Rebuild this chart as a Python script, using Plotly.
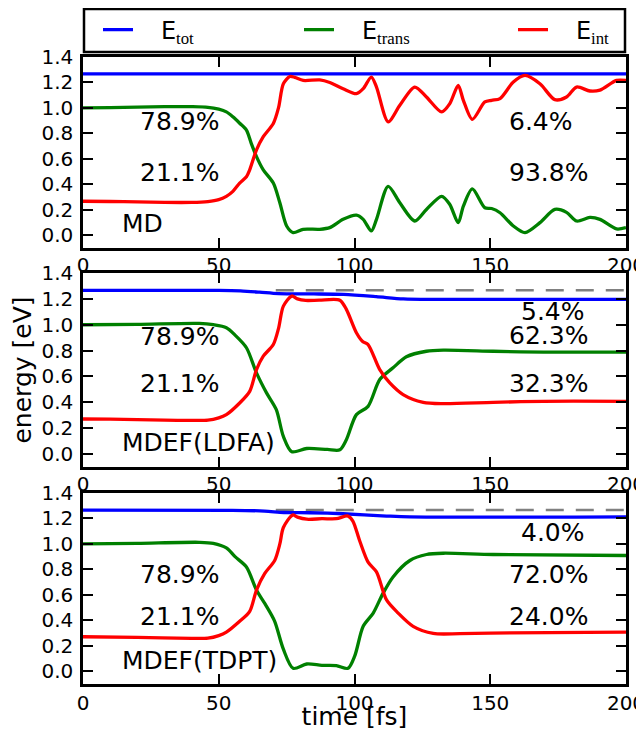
import plotly.graph_objects as go

# ---------------- data ----------------
# Panel 1: MD
md_tot_t = [0, 50, 100, 150, 200]
md_tot = [1.268, 1.268, 1.268, 1.268, 1.268]
md_int_t = [0, 10, 20, 30, 40, 46, 50, 52.8, 55.2, 57.7, 60.2, 61.4, 63.9, 66.4, 70.1, 72, 73.8, 76.2, 78,
            81.1, 87.2, 90.9, 95.8, 100.7, 103.2, 106.2, 108.1, 112.4, 116.7, 122.2, 126.5, 132.1, 135.1,
            138.2, 140.1, 143.4, 148, 150.5, 153.6, 158.5, 162.8, 168.3, 173.8, 178.1, 181.8, 186.7, 190.4,
            196.5, 200]
md_int = [0.267, 0.265, 0.262, 0.258, 0.258, 0.265, 0.28, 0.306, 0.345, 0.41, 0.46, 0.514, 0.67, 0.774, 0.878,
          1.0, 1.19, 1.247, 1.24, 1.216, 1.22, 1.2, 1.151, 1.112, 1.151, 1.242, 1.164, 0.891, 1.021, 1.164,
          1.086, 0.969, 1.034, 1.177, 1.06, 0.91, 1.047, 1.06, 1.073, 1.203, 1.255, 1.19, 1.065, 1.086, 1.164,
          1.133, 1.14, 1.216, 1.216]
md_trans_t = [0, 10, 20, 30, 40, 46, 50, 52.8, 55.2, 57.7, 60.2, 62, 63.9, 66.4, 70.1, 72.5, 75, 77.4, 81.1,
              87.2, 90.9, 95.8, 100.7, 103.2, 106.2, 108.1, 112.4, 116.7, 122.2, 126.5, 132.1, 135.1, 138.2,
              140.1, 143.4, 148, 150.5, 153.6, 158.5, 162.8, 168.3, 173.8, 178.1, 181.8, 186.7, 190.4, 196.5, 200]
md_trans = [1.0, 1.003, 1.006, 1.01, 1.01, 1.005, 0.99, 0.969, 0.93, 0.88, 0.826, 0.72, 0.618, 0.514, 0.41,
            0.255, 0.073, 0.021, 0.047, 0.047, 0.06, 0.125, 0.158, 0.125, 0.034, 0.125, 0.384, 0.255, 0.112,
            0.203, 0.306, 0.242, 0.099, 0.229, 0.364, 0.216, 0.21, 0.177, 0.073, 0.021, 0.099, 0.203, 0.18,
            0.112, 0.14, 0.125, 0.05, 0.06]

# Panel 2: MDEF(LDFA)
ldfa_tot_t = [0, 50, 58, 65, 72, 85, 96, 108, 118, 130, 200]
ldfa_tot = [1.266, 1.266, 1.262, 1.252, 1.24, 1.238, 1.234, 1.217, 1.2, 1.196, 1.196]
ldfa_int_t = [0, 10, 20, 30, 40, 46, 50, 52.8, 57.7, 61.4, 63.9, 66.4, 70.1, 72, 73.8, 76.9, 79, 82, 87, 94.6,
              97, 100.7, 103, 105, 109.3, 113, 117.9, 125.3, 132.7, 151.1, 169.6, 200]
ldfa_int = [0.271, 0.27, 0.266, 0.262, 0.26, 0.262, 0.28, 0.305, 0.395, 0.485, 0.653, 0.757, 0.847, 0.97,
            1.144, 1.222, 1.2, 1.188, 1.19, 1.19, 1.119, 0.938, 0.87, 0.847, 0.653, 0.55, 0.46, 0.4, 0.39,
            0.4, 0.408, 0.408]
ldfa_trans_t = [0, 20, 42.8, 48, 52.8, 56, 60.2, 63.9, 67.6, 71.2, 73.8, 76.9, 82.4, 90, 94.6, 97, 100.7,
                105, 109.3, 114.2, 119.1, 126.5, 132.7, 151.1, 169.6, 200]
ldfa_trans = [1.0, 1.003, 1.01, 1.0, 0.977, 0.92, 0.822, 0.628, 0.473, 0.343, 0.136, 0.018, 0.043, 0.036,
              0.033, 0.111, 0.305, 0.369, 0.576, 0.667, 0.752, 0.795, 0.803, 0.795, 0.788, 0.788]

# Panel 3: MDEF(TDPT)
tdpt_tot_t = [0, 55, 66.9, 74, 83.5, 95.8, 111.8, 120.4, 200]
tdpt_tot = [1.266, 1.264, 1.258, 1.247, 1.245, 1.237, 1.219, 1.212, 1.212]
tdpt_int_t = [0, 20, 40, 46, 50, 52.8, 57.7, 61.4, 63.9, 66.9, 70.6, 72.5, 73.8, 77.2, 79, 82.4, 88, 93.3,
              97.6, 99.4, 101.9, 105, 108.1, 111.8, 116.1, 121.6, 129, 138.8, 157.3, 200]
tdpt_int = [0.271, 0.266, 0.258, 0.26, 0.28, 0.307, 0.392, 0.47, 0.638, 0.767, 0.87, 1.0, 1.129, 1.227, 1.21,
            1.194, 1.198, 1.198, 1.219, 1.18, 1.025, 0.857, 0.78, 0.56, 0.457, 0.353, 0.297, 0.295, 0.302, 0.307]
tdpt_trans_t = [0, 20, 42.8, 48, 52.8, 56, 60.2, 63.9, 67.6, 70.6, 73.8, 77.4, 82.4, 88, 93.3, 97.6, 100.1,
                103.2, 106.9, 110.5, 114.2, 120.4, 126.5, 132.7, 151.1, 200]
tdpt_trans = [1.0, 1.005, 1.013, 1.005, 0.969, 0.9, 0.819, 0.638, 0.509, 0.392, 0.173, 0.023, 0.057, 0.047,
              0.045, 0.023, 0.121, 0.353, 0.457, 0.612, 0.741, 0.87, 0.917, 0.927, 0.917, 0.909]

# initial total energy reference (grey dashed)
ref_t = [71, 200]
ref_e = [1.266, 1.266]

panel_names = ["MD", "MDEF(LDFA)", "MDEF(TDPT)"]
left_pct = [["78.9%", "21.1%"], ["78.9%", "21.1%"], ["78.9%", "21.1%"]]
left_pct_y = [[0.89, 0.495], [0.91, 0.545], [0.763, 0.431]]
right_pct = [["6.4%", "93.8%"], ["5.4%", "62.3%", "32.3%"], ["4.0%", "72.0%", "24.0%"]]
right_pct_xy = [[(156, 0.89), (156, 0.495)],
                [(160.5, 1.10), (156, 0.915), (156, 0.545)],
                [(160.5, 1.09), (156, 0.763), (156, 0.431)]]
name_xy = [(13.5, 0.094), (13.5, 0.088), (13.5, 0.082)]

x_ticks = [0, 50, 100, 150, 200]
y_ticks = [0.0, 0.2, 0.4, 0.6, 0.8, 1.0, 1.2, 1.4]
y_ticklabels = ["0.0", "0.2", "0.4", "0.6", "0.8", "1.0", "1.2", "1.4"]

BLUE, GREEN, RED, GREY = "#0000ff", "#008000", "#ff0000", "#808080"
FONT = "DejaVu Sans"

PAD = "&nbsp;&nbsp;&nbsp;"
names = {
    "tot": PAD + "E<sub><span style='font-family:Liberation Serif'>tot</span></sub>",
    "trans": PAD + "E<sub><span style='font-family:Liberation Serif'>trans</span></sub>",
    "int": PAD + "E<sub><span style='font-family:Liberation Serif'>int</span></sub>",
}

fig = go.Figure()
panels = [
    (md_tot_t, md_tot, md_trans_t, md_trans, md_int_t, md_int),
    (ldfa_tot_t, ldfa_tot, ldfa_trans_t, ldfa_trans, ldfa_int_t, ldfa_int),
    (tdpt_tot_t, tdpt_tot, tdpt_trans_t, tdpt_trans, tdpt_int_t, tdpt_int),
]
line_kw = dict(width=3.3, shape="spline", smoothing=0.8)
for i, (tt, et, tr_t, er, ti_t, ei) in enumerate(panels):
    xa = "x" if i == 0 else f"x{i+1}"
    ya = "y" if i == 0 else f"y{i+1}"
    if i > 0:
        fig.add_trace(go.Scatter(x=ref_t, y=ref_e, mode="lines", xaxis=xa, yaxis=ya, showlegend=False,
                                 line=dict(color=GREY, width=2.5, dash="18px,12px"), hoverinfo="skip"))
    fig.add_trace(go.Scatter(x=tt, y=et, mode="lines", xaxis=xa, yaxis=ya, name=names["tot"],
                             showlegend=(i == 0), legend="legend",
                             line=dict(color=BLUE, **line_kw)))
    fig.add_trace(go.Scatter(x=tr_t, y=er, mode="lines", xaxis=xa, yaxis=ya, name=names["trans"],
                             showlegend=(i == 0), legend="legend2",
                             line=dict(color=GREEN, **line_kw)))
    fig.add_trace(go.Scatter(x=ti_t, y=ei, mode="lines", xaxis=xa, yaxis=ya, name=names["int"],
                             showlegend=(i == 0), legend="legend3",
                             line=dict(color=RED, **line_kw)))

# ---------------- layout ----------------
# the page body adds an 8px offset; the figure is sized to compensate
OFF = 8
W, Hh = 644 - OFF, 731 - OFF
M_L, M_T, M_B = 83 - OFF, 57 - OFF, 47
M_R = W - (626 - OFF)
plot_h = Hh - M_T - M_B
plot_w = W - M_L - M_R


def frac(ypix):  # reference-pixel y -> paper fraction
    return (684 - ypix) / plot_h


def xfrac(xpix):  # reference-pixel x -> paper fraction
    return (xpix - 83) / plot_w


domains = [[frac(248), 1.0], [frac(467), frac(273)], [0.0, frac(493)]]

axis_common = dict(showline=True, linecolor="black", linewidth=2.5, mirror="allticks",
                   ticks="inside", ticklen=10, tickwidth=1.5, tickcolor="black",
                   showgrid=False, zeroline=False, tickfont=dict(family=FONT, size=20, color="black"))

layout = dict(width=W, height=Hh, paper_bgcolor="white", plot_bgcolor="white",
              margin=dict(l=M_L, r=M_R, t=M_T, b=M_B, autoexpand=False),
              font=dict(family=FONT, color="black"))
for i in range(3):
    xk = "xaxis" if i == 0 else f"xaxis{i+1}"
    yk = "yaxis" if i == 0 else f"yaxis{i+1}"
    ya = "y" if i == 0 else f"y{i+1}"
    xa = "x" if i == 0 else f"x{i+1}"
    layout[xk] = dict(axis_common, domain=[0, 1], anchor=ya, range=[0, 200], tickvals=x_ticks,
                      ticklabelstandoff=-3 if i < 2 else -1, ticklabeloverflow="allow", automargin=False)
    layout[yk] = dict(axis_common, domain=domains[i], anchor=xa, range=[-0.1, 1.4], tickvals=y_ticks,
                      ticktext=y_ticklabels, ticklabelstandoff=3, ticklabeloverflow="allow", automargin=False)
layout["yaxis2"]["title"] = dict(text="energy [eV]", font=dict(family=FONT, size=25), standoff=4)
layout["xaxis3"]["title"] = dict(text="time [fs]", font=dict(family=FONT, size=25), standoff=4)

leg_common = dict(orientation="h", yanchor="middle", y=frac(30), xanchor="left",
                  bgcolor="rgba(0,0,0,0)", borderwidth=0, font=dict(family=FONT, size=24, color="black"))
layout["legend"] = dict(leg_common, x=xfrac(98))
layout["legend2"] = dict(leg_common, x=xfrac(299))
layout["legend3"] = dict(leg_common, x=xfrac(513))

layout["shapes"] = [dict(type="rect", xref="paper", yref="paper", x0=xfrac(84), x1=xfrac(625),
                         y0=frac(52), y1=frac(9), line=dict(color="black", width=2.5), layer="above")]

ann = []
for i in range(3):
    xa = "x" if i == 0 else f"x{i+1}"
    ya = "y" if i == 0 else f"y{i+1}"
    tf = dict(family=FONT, size=25, color="black")
    for txt, yv in zip(left_pct[i], left_pct_y[i]):
        ann.append(dict(text=txt, x=20.2, y=yv, xref=xa, yref=ya, xanchor="left", yanchor="middle",
                        showarrow=False, font=tf))
    for txt, (xv, yv) in zip(right_pct[i], right_pct_xy[i]):
        ann.append(dict(text=txt, x=xv, y=yv, xref=xa, yref=ya, xanchor="left", yanchor="middle",
                        showarrow=False, font=tf))
    ann.append(dict(text=panel_names[i], x=name_xy[i][0], y=name_xy[i][1], xref=xa, yref=ya,
                    xanchor="left", yanchor="middle", showarrow=False, font=tf))
layout["annotations"] = ann

fig.update_layout(**layout)
fig.write_html("out.html")
